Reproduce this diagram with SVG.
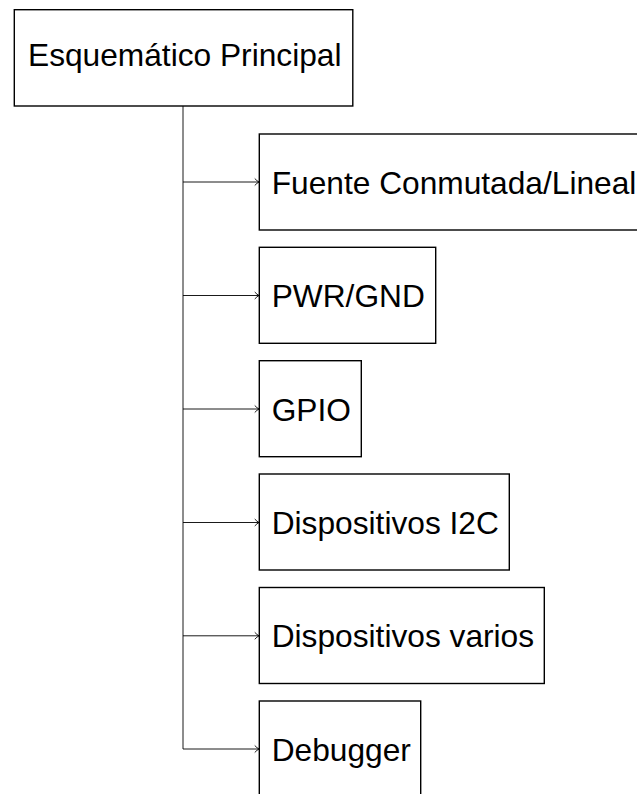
<svg xmlns="http://www.w3.org/2000/svg" width="637" height="794" viewBox="0 0 637 794">
<style>
.box{fill:#fff;stroke:#000;stroke-width:1.4}
.lbl{font-family:"Liberation Sans",Arial,sans-serif;font-size:31.7px;fill:#000}
.con{fill:none;stroke:#000;stroke-width:0.9}
.ah{fill:none;stroke:#000;stroke-width:0.9;stroke-linecap:round;stroke-linejoin:round}
</style>
<rect width="637" height="794" fill="#fff"/>
<g id="connectors">
<path class="con" d="M183 106 V749"/>
<path class="con" d="M183 182 H259"/><path class="ah" d="M255 178.8 Q257 181 259 182 Q257 183 255 185.2"/>
<path class="con" d="M183 295.5 H259"/><path class="ah" d="M255 292.3 Q257 294.5 259 295.5 Q257 296.5 255 298.7"/>
<path class="con" d="M183 409 H259"/><path class="ah" d="M255 405.8 Q257 408 259 409 Q257 410 255 412.2"/>
<path class="con" d="M183 522.5 H259"/><path class="ah" d="M255 519.3 Q257 521.5 259 522.5 Q257 523.5 255 525.7"/>
<path class="con" d="M183 635.8 H259"/><path class="ah" d="M255 632.6 Q257 634.8 259 635.8 Q257 636.8 255 639"/>
<path class="con" d="M183 749 H259"/><path class="ah" d="M255 745.8 Q257 748 259 749 Q257 750 255 752.2"/>
</g>
<g id="main">
<rect class="box" x="14.3" y="9.7" width="338.5" height="96.3"/>
<text class="lbl" x="28" y="65.5">Esquemático Principal</text>
</g>
<g id="fuente">
<rect class="box" x="259.3" y="134" width="400" height="96"/>
<text class="lbl" x="271.7" y="193.8">Fuente Conmutada/Lineal</text>
</g>
<g id="pwr">
<rect class="box" x="259.3" y="247.3" width="176.4" height="96"/>
<text class="lbl" x="271.7" y="307.1">PWR/GND</text>
</g>
<g id="gpio">
<rect class="box" x="259.3" y="360.7" width="102" height="96"/>
<text class="lbl" x="271.7" y="420.5">GPIO</text>
</g>
<g id="i2c">
<rect class="box" x="259.3" y="474" width="250" height="96"/>
<text class="lbl" x="271.7" y="533.8">Dispositivos I2C</text>
</g>
<g id="varios">
<rect class="box" x="259.3" y="587.5" width="285" height="96"/>
<text class="lbl" x="271.7" y="647.3">Dispositivos varios</text>
</g>
<g id="debugger">
<rect class="box" x="259.3" y="701" width="161.4" height="96"/>
<text class="lbl" x="271.7" y="760.8">Debugger</text>
</g>
</svg>
